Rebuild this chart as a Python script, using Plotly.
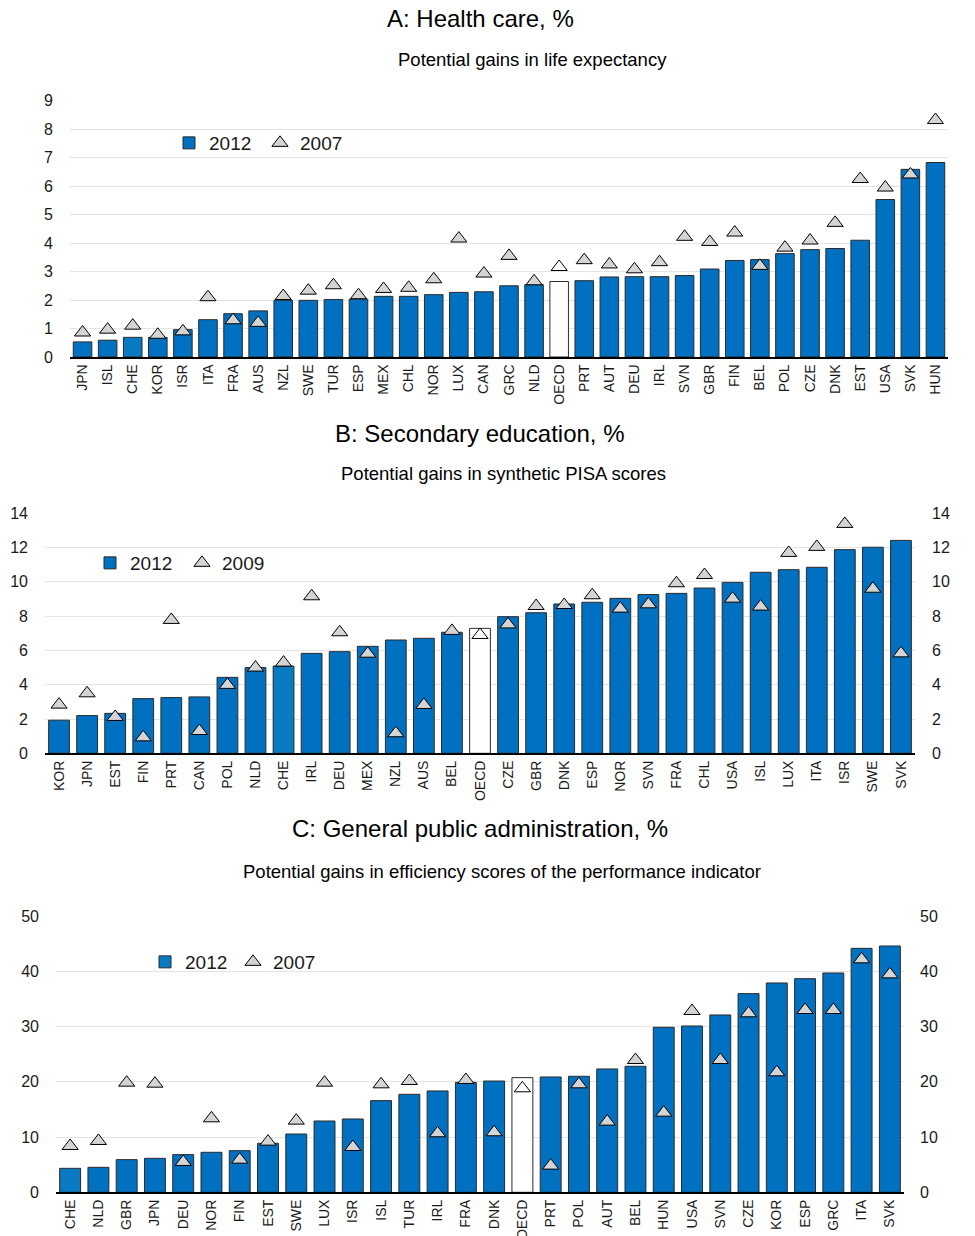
import plotly.graph_objects as go

# ---------------- Data ----------------
cats_a = ["JPN","ISL","CHE","KOR","ISR","ITA","FRA","AUS","NZL","SWE","TUR","ESP","MEX","CHL","NOR","LUX","CAN",
          "GRC","NLD","OECD","PRT","AUT","DEU","IRL","SVN","GBR","FIN","BEL","POL","CZE","DNK","EST","USA","SVK","HUN"]
bar_a_2012 = [0.53,0.59,0.69,0.69,0.96,1.31,1.52,1.62,1.99,1.99,2.02,2.03,2.13,2.13,2.19,2.27,2.29,
              2.50,2.54,2.65,2.68,2.81,2.82,2.82,2.86,3.09,3.39,3.42,3.63,3.77,3.81,4.10,5.53,6.59,6.83]
tri_a_2007 = [0.86,0.96,1.10,0.78,0.90,2.10,1.29,1.20,2.14,2.33,2.52,2.17,2.39,2.43,2.73,4.16,2.93,
              3.55,2.66,3.16,3.40,3.25,3.08,3.33,4.22,4.04,4.37,3.20,3.84,4.09,4.71,6.25,5.95,6.41,8.32]

cats_b = ["KOR","JPN","EST","FIN","PRT","CAN","POL","NLD","CHE","IRL","DEU","MEX","NZL","AUS","BEL","OECD",
          "CZE","GBR","DNK","ESP","NOR","SVN","FRA","CHL","USA","ISL","LUX","ITA","ISR","SWE","SVK"]
bar_b_2012 = [1.93,2.20,2.33,3.19,3.25,3.29,4.43,5.00,5.09,5.83,5.93,6.24,6.61,6.71,7.06,7.29,
              7.97,8.20,8.71,8.81,9.04,9.26,9.33,9.64,9.97,10.56,10.71,10.85,11.88,12.02,12.42]
tri_b_2009 = [2.84,3.50,2.12,0.93,7.78,1.30,3.99,5.00,5.29,9.16,7.06,5.81,1.17,2.82,7.14,6.90,
              7.52,8.59,8.65,9.22,8.44,8.69,9.92,10.40,9.02,8.56,11.69,12.04,13.38,9.60,5.83]

cats_c = ["CHE","NLD","GBR","JPN","DEU","NOR","FIN","EST","SWE","LUX","ISR","ISL","TUR","IRL","FRA","DNK",
          "OECD","PRT","POL","AUT","BEL","HUN","USA","SVN","CZE","KOR","ESP","GRC","ITA","SVK"]
bar_c_2012 = [4.34,4.52,5.91,6.15,6.82,7.24,7.54,8.87,10.55,12.90,13.27,16.59,17.73,18.34,19.90,20.14,
              20.75,20.87,20.99,22.32,22.80,29.86,30.10,32.09,35.95,37.88,38.66,39.69,44.15,44.57]
tri_c_2007 = [8.38,9.29,19.84,19.66,5.49,13.39,5.91,9.17,12.97,19.84,8.20,19.54,20.14,10.68,20.33,10.86,
              18.82,4.83,19.54,12.79,23.94,14.41,32.81,23.94,32.39,21.71,32.99,32.99,42.16,39.44]

titles = ["A: Health care, %", "B: Secondary education, %", "C: General public administration, %"]
subtitles = ["Potential gains in life expectancy",
             "Potential gains in synthetic PISA scores",
             "Potential gains in efficiency scores of the performance indicator"]
tri_names = ["2007", "2009", "2007"]
y_ranges = [(0, 9, 1), (0, 14, 2), (0, 50, 10)]

# ---------------- Layout geometry (page pixels) ----------------
PAGE_W, PAGE_H = 975, 1236
OFF = 8                      # default body margin of the html page
W, H = PAGE_W - OFF, PAGE_H - OFF
panels_px = [
    # x0, x1, ybottom, ytop, title_y, subtitle_y, subtitle_x, legend_x, legend_y, entrywidth, right standoff
    (70, 948, 357.0, 100.7, 18.5, 59, 532, 169, 143, 46, 18),
    (45, 915, 753.3, 513.3, 433, 473, 503, 90, 563, 47, 16),
    (56, 904, 1192.3, 916.0, 828, 871, 502, 145, 962, 43, 15),
]

def fx(px):
    return (px - OFF) / W

def fy(py):
    return 1 - (py - OFF) / H

BLUE = "#0070C0"
CHE_BLUE = "#0A7BC2"
FONT = "Liberation Sans, Arial, sans-serif"

fig = go.Figure()
datasets = [(cats_a, bar_a_2012, tri_a_2007), (cats_b, bar_b_2012, tri_b_2009), (cats_c, bar_c_2012, tri_c_2007)]

layout = dict(
    width=W, height=H,
    margin=dict(l=0, r=0, t=0, b=0, autoexpand=False),
    paper_bgcolor="white", plot_bgcolor="white",
    bargap=0.26,
    showlegend=True,
    font=dict(family=FONT, color="#1a1a1a", size=14),
)
annotations = []

for i, ((cats, bars, tris), geo) in enumerate(zip(datasets, panels_px)):
    x0, x1, yb, yt, ty, sy, sx, lx, ly, ew, rso = geo
    n = i + 1
    xa = "x" if n == 1 else f"x{n}"
    ya = "y" if n == 1 else f"y{n}"
    leg = "legend" if n == 1 else f"legend{n}"
    bar_colors = ["white" if c == "OECD" else (CHE_BLUE if c == "CHE" else BLUE) for c in cats]
    tri_colors = ["white" if c == "OECD" else "#D4D4D4" for c in cats]
    fig.add_trace(go.Bar(
        x=cats, y=bars, name="2012", xaxis=xa, yaxis=ya, legend=leg,
        marker=dict(color=bar_colors, line=dict(color="#2b2b2b", width=1)),
    ))
    fig.add_trace(go.Scatter(
        x=cats, y=tris, name=tri_names[i], xaxis=xa, yaxis=ya, legend=leg, mode="markers",
        marker=dict(symbol="triangle-up", size=14, color=tri_colors, line=dict(color="black", width=1)),
    ))
    lo, hi, dt = y_ranges[i]
    xkey = "xaxis" if n == 1 else f"xaxis{n}"
    ykey = "yaxis" if n == 1 else f"yaxis{n}"
    layout[xkey] = dict(
        domain=[fx(x0), fx(x1)], anchor=ya, type="category", automargin=False,
        tickangle=-90, tickfont=dict(size=14, color="#1a1a1a"),
        showline=True, linecolor="black", linewidth=1.5, ticks="", showgrid=False,
        range=[-0.5, len(cats) - 0.5], fixedrange=True,
    )
    layout[ykey] = dict(
        domain=[fy(yb), fy(yt)], anchor=xa, range=[lo, hi], dtick=dt, tick0=0,
        showgrid=True, gridcolor="#E4E4E4", gridwidth=1, zeroline=False, showline=False,
        automargin=False,
        ticks="", ticklabelstandoff=16, tickfont=dict(size=16, color="#1a1a1a"),
    )
    rkey = f"yaxis{n + 3}"
    layout[rkey] = dict(
        overlaying=ya, side="right", anchor=xa, range=[lo, hi], dtick=dt, tick0=0,
        showgrid=False, zeroline=False, showline=False, ticks="", ticklabelstandoff=rso,
        automargin=False,
        tickfont=dict(size=16, color="#1a1a1a"),
    )
    layout[leg] = dict(
        x=fx(lx), y=fy(ly), xanchor="left", yanchor="middle",
        orientation="h", bgcolor="rgba(0,0,0,0)", borderwidth=0,
        font=dict(size=19, color="#1a1a1a", family=FONT),
        entrywidth=ew, entrywidthmode="pixels", itemwidth=30, traceorder="normal",
    )
    annotations.append(dict(
        text=titles[i], x=fx(480), y=fy(ty), xref="paper", yref="paper",
        showarrow=False, xanchor="center", yanchor="middle",
        font=dict(size=24, color="black", family=FONT),
    ))
    annotations.append(dict(
        text=subtitles[i], x=fx(sx), y=fy(sy), xref="paper", yref="paper",
        showarrow=False, xanchor="center", yanchor="middle",
        font=dict(size=18.5, color="black", family=FONT),
    ))

# invisible traces so the right-hand axes render
for n in range(4, 7):
    xa = "x" if n == 4 else f"x{n - 3}"
    fig.add_trace(go.Scatter(x=[None], y=[None], xaxis=xa, yaxis=f"y{n}", showlegend=False,
                             hoverinfo="skip", mode="markers"))

layout["annotations"] = annotations
fig.update_layout(**layout)
fig.write_html("out.html")
